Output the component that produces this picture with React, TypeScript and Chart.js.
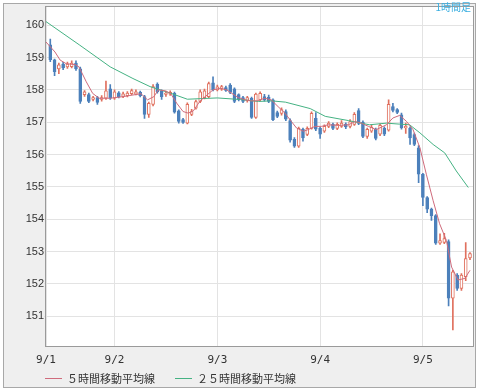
import React, { useEffect, useRef } from "react";
import { Chart, registerables } from "chart.js";

Chart.register(...registerables);

// ---- data (hour index from 9/1 08:00) ----
const candleHours = [
  1, 2, 3, 4, 5, 6, 7, 8, 9, 10, 11, 12, 13, 14, 15, 16, 17, 18, 19, 20,
  21, 22, 23, 24, 25, 26, 27, 28, 29, 30, 31, 32, 33, 34, 35, 36, 37, 38, 39, 40,
  41, 42, 43, 44, 45, 46, 47, 48, 49, 50, 51, 52, 53, 54, 55, 56, 57, 58, 59, 60,
  61, 62, 63, 64, 65, 66, 67, 68, 69, 70, 71, 72, 73, 74, 75, 76, 77, 78, 79, 80,
  81, 82, 83, 84, 85, 86, 87, 88, 89, 90, 91, 92, 93, 94, 95, 96, 97, 98, 99,
];
const openP = [
  159.39, 158.93, 158.65, 158.8, 158.71, 158.72, 158.83, 158.65, 157.85, 157.85,
  157.7, 157.76, 157.7, 157.74, 158.03, 157.74, 157.91, 157.8, 157.82, 157.88,
  157.87, 157.92, 157.79, 157.24, 157.55, 158.17, 157.97, 157.86, 157.87, 157.89,
  157.35, 157.08, 156.97, 157.24, 157.43, 157.64, 157.76, 157.79, 158.22, 158.0,
  158.02, 158.07, 158.15, 158.03, 157.85, 157.76, 157.67, 157.74, 157.15, 157.69,
  157.79, 157.78, 157.69, 157.3, 157.27, 157.33, 157.05, 156.47, 156.26, 156.78,
  156.62, 156.81, 157.12, 156.81, 156.72, 156.87, 156.93, 156.81, 156.87, 156.94,
  156.87, 156.93, 157.36, 157.0, 156.56, 156.72, 156.78, 156.63, 156.81, 156.75,
  157.48, 157.39, 157.23, 156.82, 156.82, 156.62, 156.21, 155.39, 154.67, 154.31,
  154.11, 153.26, 153.28, 153.31, 151.56, 152.27, 151.86, 152.22, 152.8,
];
const highP = [
  159.57, 158.95, 158.83, 158.85, 158.86, 158.9, 158.9, 158.7, 157.98, 157.9,
  157.8, 157.8, 157.82, 158.27, 158.16, 158.0, 157.95, 157.93, 157.95, 158.02,
  158.0, 157.96, 157.83, 157.62, 158.16, 158.22, 158.0, 157.96, 157.97, 157.93,
  157.38, 157.12, 157.6, 157.4, 157.68, 158.0, 158.02, 158.24, 158.4, 158.15,
  158.14, 158.12, 158.19, 158.06, 157.88, 157.8, 157.8, 157.78, 157.9, 157.94,
  157.86, 157.84, 157.72, 157.34, 157.44, 157.38, 157.1, 156.52, 156.85, 156.82,
  156.86, 157.32, 157.3, 156.85, 156.92, 157.02, 156.97, 156.98, 157.05, 156.98,
  157.08, 157.3, 157.42, 157.04, 156.82, 156.9, 156.82, 156.95, 156.86, 157.69,
  157.58, 157.42, 157.28, 156.97, 156.86, 156.66, 156.28, 155.42, 154.7, 154.34,
  154.14, 153.55, 153.56, 153.36, 152.42, 152.32, 152.32, 153.28, 152.97,
];
const lowP = [
  158.87, 158.44, 158.5, 158.62, 158.66, 158.68, 158.6, 157.58, 157.8, 157.6,
  157.66, 157.55, 157.65, 157.7, 157.7, 157.7, 157.75, 157.76, 157.78, 157.85,
  157.84, 157.78, 157.12, 157.15, 157.5, 157.9, 157.7, 157.8, 157.83, 157.28,
  156.97, 156.96, 156.95, 157.2, 157.4, 157.6, 157.72, 157.76, 157.97, 157.97,
  157.98, 157.95, 157.88, 157.6, 157.66, 157.6, 157.62, 157.12, 157.12, 157.66,
  157.65, 157.6, 157.05, 157.14, 157.22, 157.05, 156.38, 156.22, 156.22, 156.41,
  156.58, 156.78, 156.74, 156.5, 156.68, 156.83, 156.77, 156.77, 156.84, 156.8,
  156.82, 156.9, 156.92, 156.52, 156.5, 156.68, 156.45, 156.58, 156.58, 156.72,
  157.32, 157.26, 156.78, 156.65, 156.31, 156.27, 155.13, 154.42, 154.2, 153.96,
  153.22, 153.22, 153.24, 151.32, 150.58, 151.8, 151.8, 152.1, 152.75,
];
const closeP = [
  158.93, 158.56, 158.77, 158.68, 158.8, 158.83, 158.65, 157.64, 157.94, 157.64,
  157.76, 157.61, 157.76, 157.97, 157.74, 157.94, 157.79, 157.88, 157.9, 157.98,
  157.94, 157.82, 157.24, 157.58, 158.1, 157.94, 157.79, 157.9, 157.92, 157.31,
  157.02, 156.99, 157.55, 157.33, 157.64, 157.94, 157.97, 158.19, 158.0, 158.09,
  158.1, 157.98, 157.92, 157.64, 157.7, 157.64, 157.76, 157.15, 157.87, 157.89,
  157.69, 157.64, 157.08, 157.18, 157.39, 157.09, 156.44, 156.26, 156.81, 156.51,
  156.81, 157.27, 156.78, 156.63, 156.87, 156.97, 156.81, 156.93, 156.97, 156.85,
  157.02, 157.24, 156.96, 156.56, 156.78, 156.84, 156.5, 156.9, 156.63, 157.55,
  157.36, 157.3, 156.82, 156.87, 156.51, 156.31, 155.39, 154.67, 154.31, 154.11,
  153.26, 153.34, 153.4, 151.56, 152.37, 151.86, 152.27, 152.78, 152.94,
];

const ma5Hours = [
  0, 2.1, 3.3, 4.7, 6.8, 7.7, 9.4, 10.9, 12.4, 15, 18, 20.3, 22.2, 23.7, 25.2,
  26.2, 27.8, 29.1, 30.5, 32, 33.2, 34.4, 36, 37.6, 39, 40.7, 42.2, 43.4, 44.9,
  46.5, 47.7, 49.3, 51.1, 52.6, 54.2, 55.8, 57.3, 58.5, 60.1, 61.2, 62.8, 64.3,
  65.9, 68.3, 70.6, 72.2, 73.6, 75.3, 77.1, 79.5, 81, 82.6, 84.2, 85.7, 87.3,
  88.8, 90.4, 91.9, 93.5, 94.7, 96.2, 97.8, 99,
];
const ma5Values = [
  159.48, 159.17, 158.92, 158.81, 158.78, 158.71, 158.25, 157.89, 157.74, 157.74,
  157.79, 157.84, 157.88, 157.69, 157.79, 158.0, 157.97, 157.89, 157.59, 157.33,
  157.28, 157.35, 157.66, 157.84, 158.0, 158.05, 158.0, 157.89, 157.76, 157.69,
  157.66, 157.66, 157.74, 157.69, 157.48, 157.28, 157.02, 156.82, 156.72, 156.77,
  156.87, 156.87, 156.92, 156.9, 156.92, 157.02, 156.97, 156.87, 156.77, 156.92,
  157.13, 157.21, 157.02, 156.77, 156.21, 155.39, 154.57, 153.86, 153.34, 152.52,
  152.12, 152.17, 152.42,
];
const ma25Hours = [
  0, 7.9, 15, 20.3, 24.3, 29, 33, 40, 45.4, 49.6, 52.6, 55.9, 61.7, 65.2, 70.6,
  75.5, 79.5, 82.5, 84.9, 87.3, 90.4, 93.1, 95.8, 98.6,
];
const ma25Values = [
  160.11, 159.38, 158.71, 158.35, 158.1, 157.9, 157.71, 157.75, 157.7, 157.64,
  157.66, 157.62, 157.42, 157.18, 157.05, 156.92, 156.97, 156.94, 156.92, 156.67,
  156.31, 156.05, 155.49, 154.98,
];

const dayTickHours = [0, 16, 40, 64, 88];
const dayTickLabels = ["9/1", "9/2", "9/3", "9/4", "9/5"];
const priceTicks = [151, 152, 153, 154, 155, 156, 157, 158, 159, 160];
const legendLabels = ["５時間移動平均線", "２５時間移動平均線"];
const timeframeLabel = "1時間足";

// ---- styles ----
const UP = "#e0705e";
const DOWN = "#4c80bb";
const MA5C = "#cf6b7c";
const MA25C = "#45b283";
const GRID = "#e3e3e3";

const framePlugin = {
  id: "plotFrame",
  beforeDraw(chart: any) {
    const { ctx, chartArea } = chart;
    const { left, top, right, bottom } = chartArea;
    ctx.save();
    ctx.fillStyle = "#ffffff";
    ctx.fillRect(left, top, right - left, bottom - top);
    ctx.restore();
  },
  afterDraw(chart: any) {
    const { ctx, chartArea } = chart;
    const { left, top, right, bottom } = chartArea;
    ctx.save();
    ctx.strokeStyle = "#9a9a9a";
    ctx.lineWidth = 1;
    ctx.strokeRect(Math.round(left) - 0.5, Math.round(top) - 0.5, Math.round(right - left) + 1, Math.round(bottom - top) + 1);
    ctx.restore();
  },
};

const legendColors = [MA5C, MA25C];
const legendLineLeft = [45, 175];

export default function App() {
  const ref = useRef<HTMLCanvasElement | null>(null);

  useEffect(() => {
    if (!ref.current) return;
    const isUp = candleHours.map((_, i) => closeP[i] >= openP[i]);
    const chart = new Chart(ref.current, {
      type: "line",
      data: {
        datasets: [
          {
            type: "line",
            label: legendLabels[0],
            data: ma5Hours.map((h, i) => ({ x: h, y: ma5Values[i] })),
            borderColor: MA5C,
            backgroundColor: MA5C,
            borderWidth: 1,
            pointRadius: 0,
            tension: 0,
            fill: false,
            order: 0,
          },
          {
            type: "line",
            label: legendLabels[1],
            data: ma25Hours.map((h, i) => ({ x: h, y: ma25Values[i] })),
            borderColor: MA25C,
            backgroundColor: MA25C,
            borderWidth: 1,
            pointRadius: 0,
            tension: 0,
            fill: false,
            order: 0,
          },
          {
            type: "bar",
            label: "body",
            data: candleHours.map((h, i) => ({ x: h, y: [openP[i], closeP[i]] })),
            backgroundColor: isUp.map((u) => (u ? "#ffffff" : DOWN)),
            borderColor: isUp.map((u) => (u ? UP : DOWN)),
            borderWidth: 1,
            borderSkipped: false,
            barThickness: 3,
            minBarLength: 1,
            grouped: false,
            order: 1,
          } as any,
          {
            type: "bar",
            label: "wick",
            data: candleHours.map((h, i) => ({ x: h, y: [lowP[i], highP[i]] })),
            backgroundColor: isUp.map((u) => (u ? UP : DOWN)),
            borderWidth: 0,
            barThickness: 1,
            grouped: false,
            order: 2,
          } as any,
        ],
      },
      options: {
        animation: false,
        responsive: false,
        devicePixelRatio: 1,
        layout: { padding: { left: 0, right: 5, top: 4, bottom: 24 } },
        scales: {
          x: {
            type: "linear",
            min: 0,
            max: 99.7,
            offset: false,
            bounds: "data",
            afterBuildTicks: (s: any) => {
              s.ticks = dayTickHours.map((v) => ({ value: v }));
            },
            afterFit: (s: any) => {
              s.height = 22;
            },
            ticks: {
              autoSkip: false,
              maxRotation: 0,
              padding: 8,
              color: "#333333",
              font: { family: "'DejaVu Sans Mono', monospace", size: 11 },
              callback: (v: any) => {
                const k = dayTickHours.indexOf(Number(v));
                return k >= 0 ? dayTickLabels[k] : "";
              },
            },
            grid: { color: GRID, drawTicks: false, offset: false },
            border: { display: false },
          },
          y: {
            type: "linear",
            min: 150.079,
            max: 160.574,
            bounds: "data",
            afterBuildTicks: (s: any) => {
              s.ticks = priceTicks.map((v) => ({ value: v }));
            },
            afterFit: (s: any) => {
              s.width = 46;
            },
            ticks: {
              padding: 0,
              color: "#333333",
              font: { family: "'Liberation Sans', Arial, sans-serif", size: 11 },
            },
            grid: { color: GRID, tickLength: 2 },
            border: { display: false },
          },
        },
        plugins: {
          tooltip: { enabled: false },
          title: { display: false },
          legend: { display: false },
        },
      } as any,
      plugins: [framePlugin],
    });
    return () => chart.destroy();
  }, []);

  return (
    <div style={{ position: "fixed", left: 0, top: 0, width: 478, height: 392, overflow: "hidden", background: "#ffffff" }}>
      <div
        style={{
          position: "absolute",
          left: 3,
          top: 3,
          width: 471,
          height: 383,
          border: "1px solid #a8a8a8",
          background: "#efefef",
        }}
      />
      <canvas
        ref={ref}
        width={478}
        height={392}
        style={{ position: "absolute", left: 0, top: 0, width: 478, height: 392, display: "block" }}
      />
      <div
        style={{
          position: "absolute",
          right: 7,
          top: 1,
          fontSize: 10,
          lineHeight: "11px",
          color: "#3aaee0",
          fontFamily: "'Noto Sans CJK JP', sans-serif",
          whiteSpace: "nowrap",
        }}
      >
        {timeframeLabel}
      </div>
      {legendLabels.map((t, i) => (
        <React.Fragment key={t}>
          <div
            style={{
              position: "absolute",
              left: legendLineLeft[i],
              top: 378,
              width: 17,
              height: 1,
              background: legendColors[i],
            }}
          />
          <div
            style={{
              position: "absolute",
              left: legendLineLeft[i] + 22,
              top: 371,
              fontSize: 11,
              lineHeight: "14px",
              color: "#333333",
              fontFamily: "'Noto Sans CJK JP', sans-serif",
              whiteSpace: "nowrap",
            }}
          >
            {t}
          </div>
        </React.Fragment>
      ))}
    </div>
  );
}
